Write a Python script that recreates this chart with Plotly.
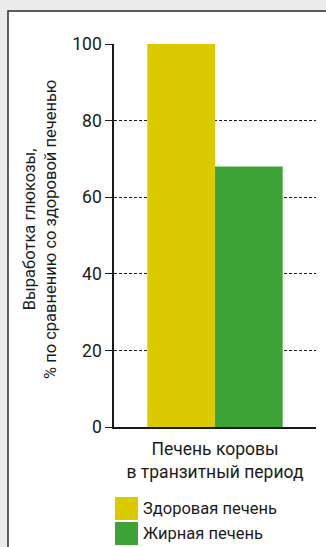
import plotly.graph_objects as go

# Data
categories = ["Печень коровы<br>в транзитный период"]
series_names = ["Здоровая печень", "Жирная печень"]
series_values = [[100], [68]]
series_colors = ["#DCCA00", "#3EA336"]
y_ticks = [0, 20, 40, 60, 80, 100]
y_title = "Выработка глюкозы,<br>% по сравнению со здоровой печенью"

W, H = 326, 547
L, R, T, B = 114, 10, 44, 120
pw, ph = W - L - R, H - T - B

def px_x(px):
    return (px - L) / pw

def px_y(py):
    return (H - B - py) / ph

FONT = "Roboto, 'Open Sans', sans-serif"
INK = "#1a1a1a"

fig = go.Figure()
for name, vals, col in zip(series_names, series_values, series_colors):
    fig.add_trace(go.Bar(x=categories, y=vals, name=name, marker_color=col,
                         marker_line_width=0, showlegend=False))

shapes = [
    # white card with border
    dict(type="rect", xref="paper", yref="paper",
         x0=px_x(8), x1=px_x(360), y0=px_y(600), y1=px_y(11),
         fillcolor="white", line=dict(color="#2b2b2b", width=1.5), layer="below"),
]
annotations = [
    dict(text=y_title, xref="paper", yref="paper", x=px_x(40), y=px_y(230),
         xanchor="center", yanchor="middle", textangle=-90, showarrow=False,
         font=dict(family=FONT, size=16.5, color=INK), align="center"),
]

# manual legend
for i, (name, col) in enumerate(zip(series_names, series_colors)):
    top = 497 + i * 25
    shapes.append(dict(type="rect", xref="paper", yref="paper",
                       x0=px_x(115), x1=px_x(138), y0=px_y(top + 23), y1=px_y(top),
                       fillcolor=col, line=dict(width=0)))
    annotations.append(dict(text=name, xref="paper", yref="paper",
                            x=px_x(141), y=px_y(top + 11.5), xanchor="left",
                            yanchor="middle", showarrow=False,
                            font=dict(family=FONT, size=16.5, color=INK)))

fig.update_layout(
    width=W, height=H,
    margin=dict(l=L, r=R, t=T, b=B, pad=0),
    paper_bgcolor="#EBEBEB",
    plot_bgcolor="rgba(0,0,0,0)",
    barmode="group", bargap=0.33, bargroupgap=0,
    shapes=shapes, annotations=annotations,
    font=dict(family=FONT, size=16, color=INK),
    xaxis=dict(showline=True, linecolor=INK, linewidth=1.5, showgrid=False,
               ticks="", ticklabelstandoff=5,
               tickfont=dict(size=17.5, color=INK), fixedrange=True),
    yaxis=dict(range=[0, 100], tickvals=y_ticks, showline=True, linecolor=INK,
               linewidth=1.5, ticks="outside", ticklen=7, tickcolor=INK,
               tickwidth=1, showgrid=True, gridcolor=INK, griddash="3px,2px",
               gridwidth=1, zeroline=False, tickfont=dict(size=17.5, color=INK),
               fixedrange=True),
)

fig.write_html("out.html")
